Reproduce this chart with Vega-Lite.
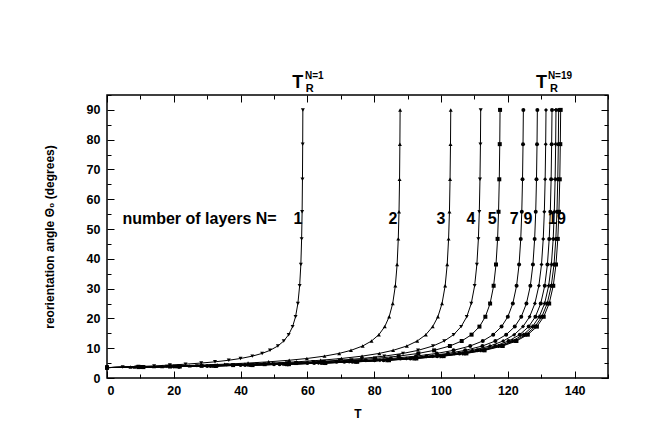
{
 "$schema": "https://vega.github.io/schema/vega-lite/v6.json",
 "width": 501, "height": 283,
 "autosize": "none",
 "padding": {"left": 107, "top": 95, "right": 38, "bottom": 66},
 "background": "white",
 "config": {
  "view": {"stroke": "black", "strokeWidth": 1.5},
  "font": "Liberation Sans",
  "axis": {"grid": false, "domain": false, "labelFont": "Liberation Sans", "labelFontWeight": "bold", "labelFontSize": 12.5, "labelColor": "black", "titleFont": "Liberation Sans", "titleFontWeight": "bold", "titleFontSize": 12, "titleColor": "black", "tickColor": "black", "tickWidth": 1}
 },
 "datasets": {
  "curves": [
   {"N":1,"T":0,"theta":3.5},{"N":1,"T":4.70,"theta":3.66},{"N":1,"T":9.41,"theta":3.85},{"N":1,"T":14.11,"theta":4.07},{"N":1,"T":18.82,"theta":4.33},{"N":1,"T":23.52,"theta":4.64},{"N":1,"T":28.22,"theta":5.02},{"N":1,"T":32.34,"theta":5.43},{"N":1,"T":36.46,"theta":5.96},{"N":1,"T":39.98,"theta":6.55},{"N":1,"T":43.51,"theta":7.34},{"N":1,"T":46.45,"theta":8.26},{"N":1,"T":48.80,"theta":9.28},{"N":1,"T":51.16,"theta":10.75},{"N":1,"T":52.92,"theta":12.42},{"N":1,"T":54.39,"theta":14.55},{"N":1,"T":55.57,"theta":17.25},{"N":1,"T":56.45,"theta":20.56},{"N":1,"T":57.15,"theta":25.0},{"N":1,"T":57.68,"theta":30.96},{"N":1,"T":58.04,"theta":38.1},{"N":1,"T":58.27,"theta":46.7},{"N":1,"T":58.42,"theta":55.8},{"N":1,"T":58.52,"theta":66.7},{"N":1,"T":58.59,"theta":78.5},{"N":1,"T":58.64,"theta":90},
   {"N":2,"T":0,"theta":3.5},{"N":2,"T":7.04,"theta":3.66},{"N":2,"T":14.08,"theta":3.85},{"N":2,"T":21.12,"theta":4.07},{"N":2,"T":28.16,"theta":4.33},{"N":2,"T":35.2,"theta":4.64},{"N":2,"T":42.24,"theta":5.02},{"N":2,"T":48.4,"theta":5.43},{"N":2,"T":54.56,"theta":5.96},{"N":2,"T":59.84,"theta":6.55},{"N":2,"T":65.12,"theta":7.34},{"N":2,"T":69.52,"theta":8.26},{"N":2,"T":73.04,"theta":9.28},{"N":2,"T":76.56,"theta":10.75},{"N":2,"T":79.2,"theta":12.42},{"N":2,"T":81.4,"theta":14.55},{"N":2,"T":83.16,"theta":17.25},{"N":2,"T":84.48,"theta":20.56},{"N":2,"T":85.54,"theta":25.0},{"N":2,"T":86.33,"theta":30.96},{"N":2,"T":86.86,"theta":38.1},{"N":2,"T":87.21,"theta":46.7},{"N":2,"T":87.43,"theta":55.8},{"N":2,"T":87.59,"theta":66.7},{"N":2,"T":87.69,"theta":78.5},{"N":2,"T":87.76,"theta":90},
   {"N":3,"T":0,"theta":3.5},{"N":3,"T":8.26,"theta":3.66},{"N":3,"T":16.51,"theta":3.85},{"N":3,"T":24.77,"theta":4.07},{"N":3,"T":33.02,"theta":4.33},{"N":3,"T":41.28,"theta":4.64},{"N":3,"T":49.54,"theta":5.02},{"N":3,"T":56.76,"theta":5.43},{"N":3,"T":63.98,"theta":5.96},{"N":3,"T":70.18,"theta":6.55},{"N":3,"T":76.37,"theta":7.34},{"N":3,"T":81.53,"theta":8.26},{"N":3,"T":85.66,"theta":9.28},{"N":3,"T":89.78,"theta":10.75},{"N":3,"T":92.88,"theta":12.42},{"N":3,"T":95.46,"theta":14.55},{"N":3,"T":97.52,"theta":17.25},{"N":3,"T":99.07,"theta":20.56},{"N":3,"T":100.31,"theta":25.0},{"N":3,"T":101.24,"theta":30.96},{"N":3,"T":101.86,"theta":38.1},{"N":3,"T":102.27,"theta":46.7},{"N":3,"T":102.53,"theta":55.8},{"N":3,"T":102.71,"theta":66.7},{"N":3,"T":102.84,"theta":78.5},{"N":3,"T":102.92,"theta":90},
   {"N":4,"T":0,"theta":3.5},{"N":4,"T":8.98,"theta":3.66},{"N":4,"T":17.95,"theta":3.85},{"N":4,"T":26.93,"theta":4.07},{"N":4,"T":35.9,"theta":4.33},{"N":4,"T":44.88,"theta":4.64},{"N":4,"T":53.86,"theta":5.02},{"N":4,"T":61.71,"theta":5.43},{"N":4,"T":69.56,"theta":5.96},{"N":4,"T":76.3,"theta":6.55},{"N":4,"T":83.03,"theta":7.34},{"N":4,"T":88.64,"theta":8.26},{"N":4,"T":93.13,"theta":9.28},{"N":4,"T":97.61,"theta":10.75},{"N":4,"T":100.98,"theta":12.42},{"N":4,"T":103.79,"theta":14.55},{"N":4,"T":106.03,"theta":17.25},{"N":4,"T":107.71,"theta":20.56},{"N":4,"T":109.06,"theta":25.0},{"N":4,"T":110.07,"theta":30.96},{"N":4,"T":110.74,"theta":38.1},{"N":4,"T":111.19,"theta":46.7},{"N":4,"T":111.47,"theta":55.8},{"N":4,"T":111.67,"theta":66.7},{"N":4,"T":111.81,"theta":78.5},{"N":4,"T":111.89,"theta":90},
   {"N":5,"T":0,"theta":3.5},{"N":5,"T":9.44,"theta":3.66},{"N":5,"T":18.88,"theta":3.85},{"N":5,"T":28.32,"theta":4.07},{"N":5,"T":37.76,"theta":4.33},{"N":5,"T":47.2,"theta":4.64},{"N":5,"T":56.64,"theta":5.02},{"N":5,"T":64.9,"theta":5.43},{"N":5,"T":73.16,"theta":5.96},{"N":5,"T":80.24,"theta":6.55},{"N":5,"T":87.32,"theta":7.34},{"N":5,"T":93.22,"theta":8.26},{"N":5,"T":97.94,"theta":9.28},{"N":5,"T":102.66,"theta":10.75},{"N":5,"T":106.2,"theta":12.42},{"N":5,"T":109.15,"theta":14.55},{"N":5,"T":111.51,"theta":17.25},{"N":5,"T":113.28,"theta":20.56},{"N":5,"T":114.7,"theta":25.0},{"N":5,"T":115.76,"theta":30.96},{"N":5,"T":116.47,"theta":38.1},{"N":5,"T":116.94,"theta":46.7},{"N":5,"T":117.23,"theta":55.8},{"N":5,"T":117.45,"theta":66.7},{"N":5,"T":117.59,"theta":78.5},{"N":5,"T":117.68,"theta":90},
   {"N":7,"T":0,"theta":3.5},{"N":7,"T":10,"theta":3.66},{"N":7,"T":20,"theta":3.85},{"N":7,"T":30,"theta":4.07},{"N":7,"T":40,"theta":4.33},{"N":7,"T":50,"theta":4.64},{"N":7,"T":60,"theta":5.02},{"N":7,"T":68.75,"theta":5.43},{"N":7,"T":77.5,"theta":5.96},{"N":7,"T":85,"theta":6.55},{"N":7,"T":92.5,"theta":7.34},{"N":7,"T":98.75,"theta":8.26},{"N":7,"T":103.75,"theta":9.28},{"N":7,"T":108.75,"theta":10.75},{"N":7,"T":112.5,"theta":12.42},{"N":7,"T":115.63,"theta":14.55},{"N":7,"T":118.13,"theta":17.25},{"N":7,"T":120,"theta":20.56},{"N":7,"T":121.5,"theta":25.0},{"N":7,"T":122.63,"theta":30.96},{"N":7,"T":123.38,"theta":38.1},{"N":7,"T":123.88,"theta":46.7},{"N":7,"T":124.19,"theta":55.8},{"N":7,"T":124.41,"theta":66.7},{"N":7,"T":124.56,"theta":78.5},{"N":7,"T":124.66,"theta":90},
   {"N":9,"T":0,"theta":3.5},{"N":9,"T":10.34,"theta":3.66},{"N":9,"T":20.67,"theta":3.85},{"N":9,"T":31.01,"theta":4.07},{"N":9,"T":41.34,"theta":4.33},{"N":9,"T":51.68,"theta":4.64},{"N":9,"T":62.02,"theta":5.02},{"N":9,"T":71.06,"theta":5.43},{"N":9,"T":80.1,"theta":5.96},{"N":9,"T":87.86,"theta":6.55},{"N":9,"T":95.61,"theta":7.34},{"N":9,"T":102.07,"theta":8.26},{"N":9,"T":107.24,"theta":9.28},{"N":9,"T":112.4,"theta":10.75},{"N":9,"T":116.28,"theta":12.42},{"N":9,"T":119.51,"theta":14.55},{"N":9,"T":122.09,"theta":17.25},{"N":9,"T":124.03,"theta":20.56},{"N":9,"T":125.58,"theta":25.0},{"N":9,"T":126.75,"theta":30.96},{"N":9,"T":127.52,"theta":38.1},{"N":9,"T":128.04,"theta":46.7},{"N":9,"T":128.36,"theta":55.8},{"N":9,"T":128.59,"theta":66.7},{"N":9,"T":128.75,"theta":78.5},{"N":9,"T":128.85,"theta":90},
   {"N":11,"T":0,"theta":3.5},{"N":11,"T":10.54,"theta":3.66},{"N":11,"T":21.09,"theta":3.85},{"N":11,"T":31.63,"theta":4.07},{"N":11,"T":42.18,"theta":4.33},{"N":11,"T":52.72,"theta":4.64},{"N":11,"T":63.26,"theta":5.02},{"N":11,"T":72.49,"theta":5.43},{"N":11,"T":81.72,"theta":5.96},{"N":11,"T":89.62,"theta":6.55},{"N":11,"T":97.53,"theta":7.34},{"N":11,"T":104.12,"theta":8.26},{"N":11,"T":109.39,"theta":9.28},{"N":11,"T":114.67,"theta":10.75},{"N":11,"T":118.62,"theta":12.42},{"N":11,"T":121.92,"theta":14.55},{"N":11,"T":124.55,"theta":17.25},{"N":11,"T":126.53,"theta":20.56},{"N":11,"T":128.11,"theta":25.0},{"N":11,"T":129.3,"theta":30.96},{"N":11,"T":130.09,"theta":38.1},{"N":11,"T":130.61,"theta":46.7},{"N":11,"T":130.94,"theta":55.8},{"N":11,"T":131.18,"theta":66.7},{"N":11,"T":131.34,"theta":78.5},{"N":11,"T":131.44,"theta":90},
   {"N":13,"T":0,"theta":3.5},{"N":13,"T":10.69,"theta":3.66},{"N":13,"T":21.38,"theta":3.85},{"N":13,"T":32.06,"theta":4.07},{"N":13,"T":42.75,"theta":4.33},{"N":13,"T":53.44,"theta":4.64},{"N":13,"T":64.13,"theta":5.02},{"N":13,"T":73.48,"theta":5.43},{"N":13,"T":82.83,"theta":5.96},{"N":13,"T":90.85,"theta":6.55},{"N":13,"T":98.86,"theta":7.34},{"N":13,"T":105.54,"theta":8.26},{"N":13,"T":110.89,"theta":9.28},{"N":13,"T":116.23,"theta":10.75},{"N":13,"T":120.24,"theta":12.42},{"N":13,"T":123.58,"theta":14.55},{"N":13,"T":126.25,"theta":17.25},{"N":13,"T":128.26,"theta":20.56},{"N":13,"T":129.86,"theta":25.0},{"N":13,"T":131.06,"theta":30.96},{"N":13,"T":131.86,"theta":38.1},{"N":13,"T":132.4,"theta":46.7},{"N":13,"T":132.73,"theta":55.8},{"N":13,"T":132.97,"theta":66.7},{"N":13,"T":133.13,"theta":78.5},{"N":13,"T":133.24,"theta":90},
   {"N":15,"T":0,"theta":3.5},{"N":15,"T":10.78,"theta":3.66},{"N":15,"T":21.57,"theta":3.85},{"N":15,"T":32.35,"theta":4.07},{"N":15,"T":43.14,"theta":4.33},{"N":15,"T":53.92,"theta":4.64},{"N":15,"T":64.7,"theta":5.02},{"N":15,"T":74.14,"theta":5.43},{"N":15,"T":83.58,"theta":5.96},{"N":15,"T":91.66,"theta":6.55},{"N":15,"T":99.75,"theta":7.34},{"N":15,"T":106.49,"theta":8.26},{"N":15,"T":111.88,"theta":9.28},{"N":15,"T":117.28,"theta":10.75},{"N":15,"T":121.32,"theta":12.42},{"N":15,"T":124.69,"theta":14.55},{"N":15,"T":127.39,"theta":17.25},{"N":15,"T":129.41,"theta":20.56},{"N":15,"T":131.03,"theta":25.0},{"N":15,"T":132.24,"theta":30.96},{"N":15,"T":133.05,"theta":38.1},{"N":15,"T":133.59,"theta":46.7},{"N":15,"T":133.92,"theta":55.8},{"N":15,"T":134.17,"theta":66.7},{"N":15,"T":134.33,"theta":78.5},{"N":15,"T":134.43,"theta":90},
   {"N":17,"T":0,"theta":3.5},{"N":17,"T":10.85,"theta":3.66},{"N":17,"T":21.7,"theta":3.85},{"N":17,"T":32.54,"theta":4.07},{"N":17,"T":43.39,"theta":4.33},{"N":17,"T":54.24,"theta":4.64},{"N":17,"T":65.09,"theta":5.02},{"N":17,"T":74.58,"theta":5.43},{"N":17,"T":84.07,"theta":5.96},{"N":17,"T":92.21,"theta":6.55},{"N":17,"T":100.34,"theta":7.34},{"N":17,"T":107.12,"theta":8.26},{"N":17,"T":112.55,"theta":9.28},{"N":17,"T":117.97,"theta":10.75},{"N":17,"T":122.04,"theta":12.42},{"N":17,"T":125.43,"theta":14.55},{"N":17,"T":128.14,"theta":17.25},{"N":17,"T":130.18,"theta":20.56},{"N":17,"T":131.8,"theta":25.0},{"N":17,"T":133.02,"theta":30.96},{"N":17,"T":133.84,"theta":38.1},{"N":17,"T":134.38,"theta":46.7},{"N":17,"T":134.72,"theta":55.8},{"N":17,"T":134.96,"theta":66.7},{"N":17,"T":135.13,"theta":78.5},{"N":17,"T":135.23,"theta":90},
   {"N":19,"T":0,"theta":3.5},{"N":19,"T":10.9,"theta":3.66},{"N":19,"T":21.79,"theta":3.85},{"N":19,"T":32.69,"theta":4.07},{"N":19,"T":43.58,"theta":4.33},{"N":19,"T":54.48,"theta":4.64},{"N":19,"T":65.38,"theta":5.02},{"N":19,"T":74.91,"theta":5.43},{"N":19,"T":84.44,"theta":5.96},{"N":19,"T":92.62,"theta":6.55},{"N":19,"T":100.79,"theta":7.34},{"N":19,"T":107.6,"theta":8.26},{"N":19,"T":113.05,"theta":9.28},{"N":19,"T":118.49,"theta":10.75},{"N":19,"T":122.58,"theta":12.42},{"N":19,"T":125.99,"theta":14.55},{"N":19,"T":128.71,"theta":17.25},{"N":19,"T":130.75,"theta":20.56},{"N":19,"T":132.39,"theta":25.0},{"N":19,"T":133.61,"theta":30.96},{"N":19,"T":134.43,"theta":38.1},{"N":19,"T":134.97,"theta":46.7},{"N":19,"T":135.31,"theta":55.8},{"N":19,"T":135.56,"theta":66.7},{"N":19,"T":135.72,"theta":78.5},{"N":19,"T":135.83,"theta":90}
  ],
  "notes": [
   {"kind":"lab","label":"number of layers N=","T":27.7,"theta":53.4},
   {"kind":"num","label":"1","T":57.2,"theta":53.4},
   {"kind":"num","label":"2","T":85.6,"theta":53.4},
   {"kind":"num","label":"3","T":100.0,"theta":53.4},
   {"kind":"num","label":"4","T":109.0,"theta":53.4},
   {"kind":"num","label":"5","T":115.3,"theta":53.4},
   {"kind":"num","label":"7","T":121.9,"theta":53.4},
   {"kind":"num","label":"9","T":126.0,"theta":53.4},
   {"kind":"num","label":"19","T":134.7,"theta":53.4},
   {"kind":"big","label":"T","T":57.1,"theta":97.35},
   {"kind":"big","label":"T","T":130.1,"theta":97.35},
   {"kind":"sup","label":"N=1","T":59.3,"theta":100.3},
   {"kind":"sup","label":"N=19","T":132.0,"theta":100.3},
   {"kind":"sub","label":"R","T":59.5,"theta":96.0},
   {"kind":"sub","label":"R","T":132.6,"theta":96.0}
  ]
 },
 "resolve": {"axis": {"x": "independent", "y": "independent"}},
 "layer": [
  {
   "data": {"name": "curves"},
   "mark": {"type": "line", "color": "black", "strokeWidth": 1, "clip": true},
   "encoding": {
    "x": {"field": "T", "type": "quantitative", "scale": {"domain": [0, 150], "nice": false, "zero": false},
          "axis": {"orient": "bottom", "values": [0,20,40,60,80,100,120,140], "tickSize": -7, "labelPadding": 13, "title": "T", "titlePadding": 12}},
    "y": {"field": "theta", "type": "quantitative", "scale": {"domain": [0, 95], "nice": false},
          "axis": {"orient": "left", "values": [0,10,20,30,40,50,60,70,80,90], "tickSize": -7, "labelPadding": 14, "title": "reorientation angle Θ₀ (degrees)", "titlePadding": 30}},
    "detail": {"field": "N", "type": "nominal"}
   }
  },
  {
   "data": {"name": "curves"},
   "mark": {"type": "point", "color": "black", "filled": true, "size": 16, "opacity": 1},
   "encoding": {
    "x": {"field": "T", "type": "quantitative", "axis": null},
    "y": {"field": "theta", "type": "quantitative", "axis": null},
    "shape": {"field": "N", "type": "ordinal", "legend": null,
              "scale": {"domain": [1,2,3,4,5,7,9,11,13,15,17,19], "range": ["triangle-down","triangle-up","triangle-up","triangle-down","square","circle","circle","diamond","circle","cross","circle","square"]}}
   }
  },
  {
   "data": {"name": "curves"},
   "mark": {"type": "point", "opacity": 0},
   "encoding": {
    "x": {"field": "T", "type": "quantitative", "axis": {"orient": "bottom", "values": [10,30,50,70,90,110,130,150], "tickSize": -4, "labels": false, "title": null}},
    "y": {"field": "theta", "type": "quantitative", "axis": {"orient": "left", "values": [5,15,25,35,45,55,65,75,85,95], "tickSize": -4, "labels": false, "title": null}}
   }
  },
  {
   "data": {"name": "curves"},
   "mark": {"type": "point", "opacity": 0},
   "encoding": {
    "x": {"field": "T", "type": "quantitative", "axis": {"orient": "top", "values": [0,20,40,60,80,100,120,140], "tickSize": -7, "labels": false, "title": null}},
    "y": {"field": "theta", "type": "quantitative", "axis": {"orient": "right", "values": [0,10,20,30,40,50,60,70,80,90], "tickSize": -7, "labels": false, "title": null}}
   }
  },
  {
   "data": {"name": "curves"},
   "mark": {"type": "point", "opacity": 0},
   "encoding": {
    "x": {"field": "T", "type": "quantitative", "axis": {"orient": "top", "values": [10,30,50,70,90,110,130,150], "tickSize": -4, "labels": false, "title": null}},
    "y": {"field": "theta", "type": "quantitative", "axis": {"orient": "right", "values": [5,15,25,35,45,55,65,75,85,95], "tickSize": -4, "labels": false, "title": null}}
   }
  },
  {
   "data": {"name": "notes"},
   "transform": [{"filter": "datum.kind === 'lab'"}],
   "mark": {"type": "text", "font": "Liberation Sans", "fontWeight": "bold", "fontSize": 16, "align": "center", "baseline": "middle", "color": "black"},
   "encoding": {"x": {"field": "T", "type": "quantitative", "axis": null}, "y": {"field": "theta", "type": "quantitative", "axis": null}, "text": {"field": "label"}}
  },
  {
   "data": {"name": "notes"},
   "transform": [{"filter": "datum.kind === 'num'"}],
   "mark": {"type": "text", "font": "Liberation Sans", "fontWeight": "bold", "fontSize": 16, "align": "center", "baseline": "middle", "color": "black"},
   "encoding": {"x": {"field": "T", "type": "quantitative", "axis": null}, "y": {"field": "theta", "type": "quantitative", "axis": null}, "text": {"field": "label"}}
  },
  {
   "data": {"name": "notes"},
   "transform": [{"filter": "datum.kind === 'big'"}],
   "mark": {"type": "text", "font": "Liberation Sans", "fontWeight": "bold", "fontSize": 18, "align": "center", "baseline": "alphabetic", "color": "black"},
   "encoding": {"x": {"field": "T", "type": "quantitative", "axis": null}, "y": {"field": "theta", "type": "quantitative", "axis": null}, "text": {"field": "label"}}
  },
  {
   "data": {"name": "notes"},
   "transform": [{"filter": "datum.kind === 'sup'"}],
   "mark": {"type": "text", "font": "Liberation Sans", "fontWeight": "bold", "fontSize": 10, "align": "left", "baseline": "alphabetic", "color": "black"},
   "encoding": {"x": {"field": "T", "type": "quantitative", "axis": null}, "y": {"field": "theta", "type": "quantitative", "axis": null}, "text": {"field": "label"}}
  },
  {
   "data": {"name": "notes"},
   "transform": [{"filter": "datum.kind === 'sub'"}],
   "mark": {"type": "text", "font": "Liberation Sans", "fontWeight": "bold", "fontSize": 11, "align": "left", "baseline": "alphabetic", "color": "black"},
   "encoding": {"x": {"field": "T", "type": "quantitative", "axis": null}, "y": {"field": "theta", "type": "quantitative", "axis": null}, "text": {"field": "label"}}
  }
 ]
}
